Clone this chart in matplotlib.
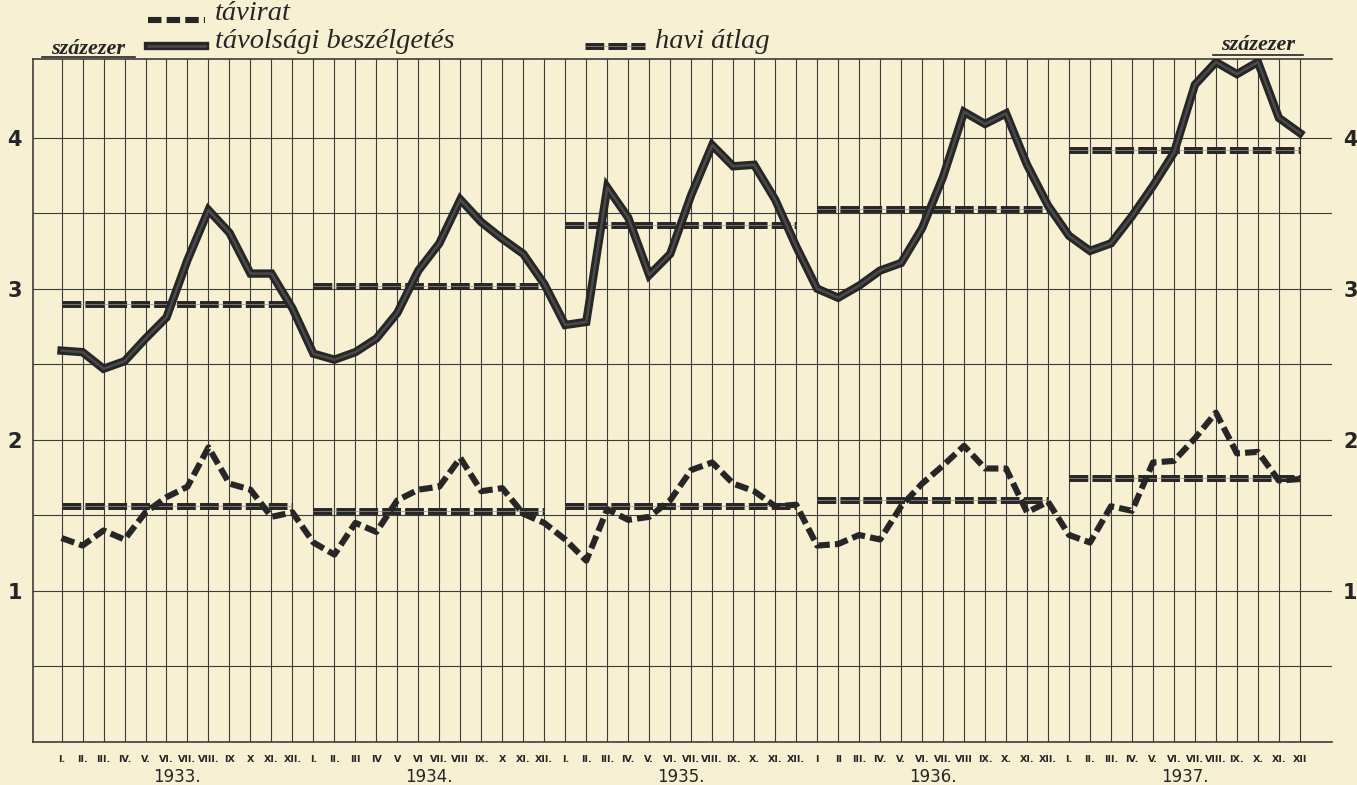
import numpy as np
import matplotlib
matplotlib.use("Agg")
from matplotlib import pyplot as plt
from matplotlib.lines import Line2D

# monthly values, hundred-thousands (százezer)
years = ["1933.", "1934.", "1935.", "1936.", "1937."]

calls_1933 = [2.59, 2.58, 2.47, 2.52, 2.67, 2.81, 3.19, 3.52, 3.37, 3.10, 3.10, 2.87]
calls_1934 = [2.57, 2.53, 2.58, 2.67, 2.84, 3.12, 3.30, 3.59, 3.44, 3.33, 3.23, 3.03]
calls_1935 = [2.76, 2.78, 3.67, 3.47, 3.09, 3.23, 3.62, 3.95, 3.81, 3.82, 3.59, 3.28]
calls_1936 = [3.00, 2.94, 3.02, 3.12, 3.17, 3.40, 3.74, 4.17, 4.09, 4.16, 3.82, 3.55]
calls_1937 = [3.35, 3.25, 3.30, 3.48, 3.68, 3.90, 4.35, 4.50, 4.42, 4.50, 4.13, 4.03]

tel_1933 = [1.35, 1.30, 1.40, 1.34, 1.52, 1.62, 1.69, 1.95, 1.71, 1.67, 1.49, 1.52]
tel_1934 = [1.32, 1.24, 1.45, 1.39, 1.60, 1.67, 1.69, 1.88, 1.66, 1.68, 1.51, 1.45]
tel_1935 = [1.34, 1.20, 1.54, 1.47, 1.49, 1.60, 1.80, 1.85, 1.71, 1.66, 1.56, 1.57]
tel_1936 = [1.30, 1.31, 1.37, 1.34, 1.56, 1.71, 1.83, 1.96, 1.81, 1.81, 1.52, 1.59]
tel_1937 = [1.37, 1.32, 1.56, 1.53, 1.85, 1.86, 2.01, 2.18, 1.91, 1.92, 1.73, 1.74]

avg_calls = [2.90, 3.02, 3.42, 3.53, 3.92]
avg_tel = [1.56, 1.53, 1.565, 1.60, 1.75]

month_labels = [
    "I.", "II.", "III.", "IV.", "V.", "VI.", "VII.", "VIII.", "IX", "X", "XI.", "XII.",
    "I.", "II.", "III", "IV", "V", "VI", "VII.", "VIII", "IX.", "X", "XI.", "XII.",
    "I.", "II.", "III.", "IV.", "V.", "VI.", "VII.", "VIII.", "IX.", "X.", "XI.", "XII.",
    "I", "II", "III.", "IV.", "V.", "VI.", "VII.", "VIII", "IX.", "X.", "XI.", "XII.",
    "I.", "II.", "III.", "IV.", "V.", "VI.", "VII.", "VIII.", "IX.", "X.", "XI.", "XII",
]

calls = np.concatenate([calls_1933, calls_1934, calls_1935, calls_1936, calls_1937])
tel = np.concatenate([tel_1933, tel_1934, tel_1935, tel_1936, tel_1937])
x = np.arange(len(calls))

paper = "#f7f0d2"
ink = "#262626"
grid_c = "#3c3c3c"
avg_style = (0, (2.7, 0.6))
tel_style = (0, (2.2, 0.85))

fig = plt.figure(figsize=(13.57, 7.85), dpi=100, facecolor=paper)
ax = fig.add_axes([33 / 1357, 1 - 742 / 785, (1332 - 33) / 1357, (742 - 59) / 785])
ax.set_facecolor(paper)

ax.set_xlim(-1.36, 60.53)
ax.set_ylim(0, 4.52)

# grid
ax.set_xticks(x)
ax.set_xticklabels(month_labels, fontsize=6.8, fontweight="bold", color=ink)
ax.set_yticks([1, 2, 3, 4])
ax.set_yticklabels(["1", "2", "3", "4"], fontsize=15, fontweight="bold", color=ink)
ax.set_yticks(np.arange(0.5, 4.01, 0.5), minor=True)
ax.tick_params(axis="x", length=0, pad=9)
ax.tick_params(axis="y", which="both", length=0, pad=8, labelright=True)
ax.grid(True, axis="x", color=grid_c, linewidth=0.8)
ax.grid(True, axis="y", which="both", color=grid_c, linewidth=0.8)
for side in ["left", "top", "bottom"]:
    ax.spines[side].set_color(grid_c)
    ax.spines[side].set_linewidth(1.2)
ax.spines["right"].set_visible(False)

# yearly averages (havi átlag)
for k in range(len(years)):
    for val in (avg_calls[k], avg_tel[k]):
        ax.hlines(val, 12 * k, 12 * k + 11, colors=ink, linewidth=5.0,
                  linestyles=avg_style, zorder=3)
        ax.hlines(val, 12 * k, 12 * k + 11, colors="#9a9689", linewidth=0.5, zorder=4)

# long-distance calls
ax.plot(x, calls, color=ink, linewidth=6.0, solid_joinstyle="miter", zorder=5)
ax.plot(x, calls, color="#4a4a4a", linewidth=1.8, zorder=6)

# telegrams
ax.plot(x, tel, color=ink, linewidth=4.4, linestyle=tel_style, zorder=5)

# year labels
for k, yr in enumerate(years):
    ax.text(12 * k + 5.5, -0.051, yr, transform=ax.get_xaxis_transform(),
            ha="center", va="center", fontsize=12, color=ink)

# unit labels
W, H = 1357, 785
script = dict(family="Liberation Serif", style="italic", color=ink)
fig.text(88 / W, 1 - 49 / H, "százezer", ha="center", va="center",
         fontsize=16, fontweight="bold", **script)
fig.add_artist(Line2D([42 / W, 135 / W], [1 - 57 / H] * 2, color=ink, lw=1.2))
fig.text(1258 / W, 1 - 45 / H, "százezer", ha="center", va="center",
         fontsize=16, fontweight="bold", **script)
fig.add_artist(Line2D([1213 / W, 1303 / W], [1 - 55 / H] * 2, color=ink, lw=1.2))

# legend
fig.add_artist(Line2D([148 / W, 205 / W], [1 - 20 / H] * 2, color=ink, lw=4.4,
                      linestyle=tel_style))
fig.text(215 / W, 1 - 14 / H, "távirat", ha="left", va="center", fontsize=20.5, **script)
fig.add_artist(Line2D([148 / W, 205 / W], [1 - 46 / H] * 2, color=ink, lw=6.0))
fig.add_artist(Line2D([148 / W, 205 / W], [1 - 46 / H] * 2, color="#4a4a4a", lw=1.8))
fig.text(215 / W, 1 - 42 / H, "távolsági beszélgetés", ha="left", va="center",
         fontsize=20.5, **script)
fig.add_artist(Line2D([585 / W, 645 / W], [1 - 46 / H] * 2, color=ink, lw=5.0,
                      linestyle=avg_style))
fig.add_artist(Line2D([585 / W, 645 / W], [1 - 46 / H] * 2, color="#9a9689", lw=0.5))
fig.text(655 / W, 1 - 42 / H, "havi átlag", ha="left", va="center", fontsize=20.5, **script)

fig.savefig("out.png", dpi=100, facecolor=paper)
plt.close(fig)
